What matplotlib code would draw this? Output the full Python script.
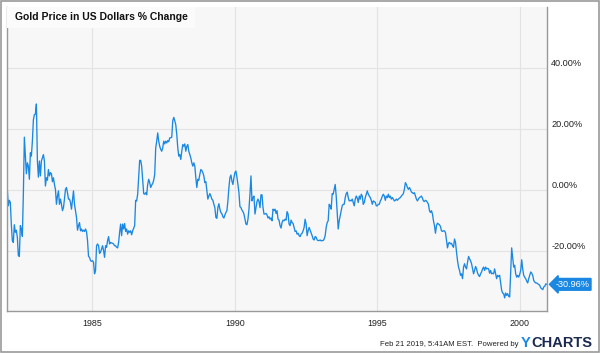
import numpy as np
import pandas as pd
import matplotlib
matplotlib.use("Agg")
import matplotlib.pyplot as plt
import matplotlib.dates as mdates
from matplotlib.transforms import blended_transform_factory
from matplotlib.patches import Rectangle

plt.rcParams['font.family'] = ['Liberation Sans', 'DejaVu Sans']

title = "Gold Price in US Dollars % Change"
start_date = "1982-01-05"
end_date = "2000-12-12"

# % change readings, sampled regularly from start_date to end_date
pct_change = [
    # 1982 - 1985
    0.2, -5.2, -3.4, -4.1, -11.2, -16.6, -17.2, -11.4, -13.9, -13.2, -15.5, -21.5, -21.8, -11.7, -12.8, -15.2,
    -1.4, 17.3, 11.6, 5.3, 8.9, 7.8, 3.5, 12.2, 11.1, 16.0, 23.0, 24.7, 24.9, 28.2, 9.5, 4.2, 9.5, 4.6, 9.5,
    10.5, 11.6, 9.5, 1.3, 4.0, 3.2, 6.7, 4.6, 5.7, 5.3, 2.7, 4.0, 1.8, 0.2, -4.7, -2.0, -0.3, -4.7, -3.0, -4.7,
    -6.8, -5.8, -3.0, 0.2, 0.8, -0.9, -3.0, -3.0, -4.1, -6.3, -3.4, -0.3, -4.7, -6.8, -9.0, -13.2, -11.7, -10.7,
    -13.4, -12.8, -13.6, -13.2, -13.6, -12.8, -13.7, -16.6, -21.8, -22.1, -23.2, -23.4,
    # 1985 - 1988
    -23.2, -23.7, -27.5, -26.4, -18.3, -17.7, -18.3, -20.8, -20.4, -19.3, -18.3, -19.9, -22.1, -18.3, -18.8,
    -16.6, -15.3, -17.7, -17.2, -17.4, -17.5, -17.7, -18.3, -18.3, -18.8, -19.0, -17.2, -13.9, -11.2, -15.0,
    -11.2, -12.8, -11.0, -13.6, -12.8, -14.5, -13.4, -13.9, -13.4, -14.7, -13.4, -12.6, -11.7, -3.4, -3.6,
    -1.4, 4.0, 9.7, 9.7, 7.8, 3.2, -1.2, -1.4, -0.9, -1.6, 1.8, 3.5, 2.4, 0.8, 1.6, 2.1, 3.2, 5.1, 13.8, 16.0,
    18.7, 16.0, 14.3, 13.3, 12.7, 13.8, 16.0, 15.1, 16.0, 15.4, 16.2, 15.8, 17.1, 17.1, 17.3, 22.7, 23.8, 22.7,
    21.4, 18.2, 13.8, 11.1, 11.6, 10.0, 12.7,
    # 1988 - 1991
    14.9, 14.3, 15.1, 12.7, 14.3, 14.9, 12.7, 11.6, 10.5, 8.9, 7.8, 8.9, 7.8, 4.0, 0.8, 3.5, 3.2, 5.1, 6.7,
    6.4, 5.7, 4.6, 2.4, 2.7, -0.3, -3.0, -2.0, -1.2, -2.0, -3.0, -3.4, -4.7, -5.8, -9.0, -9.3, -5.8, -4.5,
    -6.3, -7.4, -7.8, -8.8, -9.2, -8.2, -7.4, -6.8, -3.6, 0.8, 4.0, 4.9, 2.9, 1.8, 4.0, 5.7, 6.2, 4.2, 1.8,
    -0.9, -5.5, -5.8, -6.6, -7.1, -7.9, -9.6, -11.2, -11.4, -9.6, -6.3, -1.4, 4.6, -3.6, -2.5, -2.0, -7.9,
    -5.8, -3.8, -3.0, -3.8, -5.8, -1.6, -1.6, -5.8, -7.9, -7.9, -7.7, -8.2, -9.2, -8.8, -9.6, -9.2, -10.1,
    # 1991 - 1994
    -6.3, -6.8, -6.3, -7.7, -6.8, -9.6, -9.9, -11.7, -12.5, -10.7, -9.9, -10.1, -9.6, -9.9, -7.1, -7.9, -11.2,
    -11.7, -9.9, -10.7, -11.0, -12.3, -13.6, -13.4, -14.5, -14.2, -15.0, -15.3, -14.5, -14.2, -13.4, -12.3,
    -9.6, -11.2, -15.0, -13.4, -12.3, -13.2, -14.0, -15.0, -16.1, -16.4, -15.3, -15.5, -16.4, -16.6, -16.6,
    -16.4, -16.7, -16.6, -16.6, -16.1, -15.0, -12.3, -10.7, -10.1, -4.7, -5.2, -6.3, -1.2, -1.4, 0.2, 1.8,
    -2.0, -7.4, -12.8, -10.1, -8.5, -6.8, -5.2, -4.7, -4.7, -2.5, -1.2, -0.7, -2.5, -3.6, -3.4, -3.6, -3.0,
    -4.1, -5.2, -3.0, -2.0, -2.7, -4.1, -2.0, -3.0, -1.4, -2.0,
    # 1994 - 1997
    -4.7, -4.1, -2.5, -1.4, -0.3, -1.4, -2.0, -2.5, -3.4, -4.7, -3.6, -3.8, -4.1, -5.2, -5.2, -4.7, -4.7,
    -3.6, -3.0, -2.0, -1.4, -2.0, -3.4, -2.0, -2.5, -1.4, -2.5, -2.0, -3.0, -2.5, -3.0, -3.6, -3.4, -3.0,
    -3.4, -3.0, -2.7, -2.5, -2.0, -1.6, -1.2, 0.2, 2.4, 1.8, 0.8, 0.2, 0.8, 0.2, -0.7, -0.9, -1.2, -0.9,
    -2.0, -3.0, -3.6, -3.0, -2.5, -2.3, -2.0, -2.7, -3.6, -3.8, -3.4, -3.6, -4.1, -4.7, -6.8, -7.4, -6.8,
    -7.9, -10.1, -11.7, -14.2, -11.7, -10.9, -11.2, -11.4, -12.0, -13.4, -13.6, -13.4, -13.4, -14.0, -16.6,
    -19.0, -17.5, -17.2, -17.7, -17.5, -18.3, -18.8,
    # 1997 - 2001
    -16.1, -17.2, -20.4, -23.2, -25.3, -26.4, -28.0, -27.5, -29.1, -25.3, -24.2, -25.3, -25.9, -23.7, -21.8,
    -22.6, -23.2, -24.2, -25.9, -27.5, -26.4, -25.1, -25.9, -27.3, -28.0, -28.4, -27.5, -26.9, -25.9, -25.3,
    -26.4, -25.3, -25.9, -25.7, -25.9, -27.3, -26.4, -27.5, -27.3, -27.5, -25.9, -27.5, -29.1, -28.0, -28.4,
    -28.0, -30.5, -32.9, -33.8, -34.0, -35.4, -33.8, -34.6, -34.0, -34.9, -35.1, -27.0, -19.0, -22.1, -25.3,
    -24.7, -27.5, -28.6, -28.0, -28.6, -27.7, -26.4, -22.9, -25.9, -28.0, -28.6, -29.1, -29.9, -30.5, -29.1,
    -28.0, -26.9, -27.3, -28.0, -29.7, -30.2, -30.5, -30.5, -30.8, -31.0, -31.3, -32.1, -32.4, -32.7, -31.8,
    -31.6, -30.8, -30.96,
]
y_ticks = [-20, 0, 20, 40]
y_tick_labels = ["-20.00%", "0.00%", "20.00%", "40.00%"]
last_label = "-30.96%"
footer = "Feb 21 2019, 5:41AM EST.  Powered by"

dates = pd.date_range(start_date, end_date, periods=len(pct_change))

line_color = "#1a88e3"
fig = plt.figure(figsize=(6.0, 3.53), dpi=100)
fig.patch.set_facecolor("white")
fig.add_artist(Rectangle((0.001, 0.0015), 0.997, 0.996, transform=fig.transFigure,
                         fill=False, edgecolor="#9a9a9a", linewidth=1.2))

ax = fig.add_axes([7 / 600, 1 - 311 / 353, 540 / 600, 304 / 353])
ax.set_facecolor("#f7f7f7")
ax.plot(dates, pct_change, color=line_color, linewidth=0.95, solid_joinstyle="round")

ax.set_xlim(pd.Timestamp("1982-01-01"), pd.Timestamp("2000-12-15"))
ax.set_ylim(-39.7, 60)

ax.xaxis.set_major_locator(mdates.YearLocator(5))
ax.xaxis.set_major_formatter(mdates.DateFormatter("%Y"))
ax.yaxis.tick_right()
ax.set_yticks(y_ticks)
ax.set_yticklabels(y_tick_labels)
ax.tick_params(axis="y", length=0, pad=3, labelsize=6.6, colors="#222222")
ax.tick_params(axis="x", length=0, pad=6, labelsize=6.4, colors="#222222")
for lab in ax.get_yticklabels():
    lab.set_verticalalignment("bottom")

ax.grid(True, color="#e3e3e3", linewidth=0.8)
ax.set_axisbelow(True)
for side in ["left", "right", "bottom"]:
    ax.spines[side].set_color("#999999")
    ax.spines[side].set_linewidth(1.0)
ax.spines["top"].set_visible(False)

# title box
ax.add_patch(Rectangle((0, 1), 188 / 540, -21 / 304, transform=ax.transAxes,
                       facecolor="#fbfbfb", edgecolor="none", zorder=3))
ax.annotate(title, xy=(0, 1), xycoords="axes fraction", xytext=(5.8, -7.0),
            textcoords="offset points", ha="left", va="center",
            fontsize=7.5, fontweight="bold", color="#111111", zorder=4)

# last value label
tr = blended_transform_factory(ax.transAxes, ax.transData)
ax.text(1.016, pct_change[-1], last_label, transform=tr, ha="left", va="center",
        fontsize=6.6, color="white", clip_on=False,
        bbox=dict(boxstyle="larrow,pad=0.15", facecolor=line_color, edgecolor=line_color))

# footer
fig.text(519 / 600, 1 - 344 / 353, footer, ha="right", va="center", fontsize=5.6, color="#222222")
fig.text(521 / 600, 1 - 343 / 353, "Y", ha="left", va="center", fontsize=10.5,
         fontweight="bold", color="#1a88e3")
fig.text(531 / 600, 1 - 343 / 353, "CHARTS", ha="left", va="center", fontsize=10.5,
         fontweight="bold", color="#1b2a4e")

fig.savefig("out.png", dpi=100)
